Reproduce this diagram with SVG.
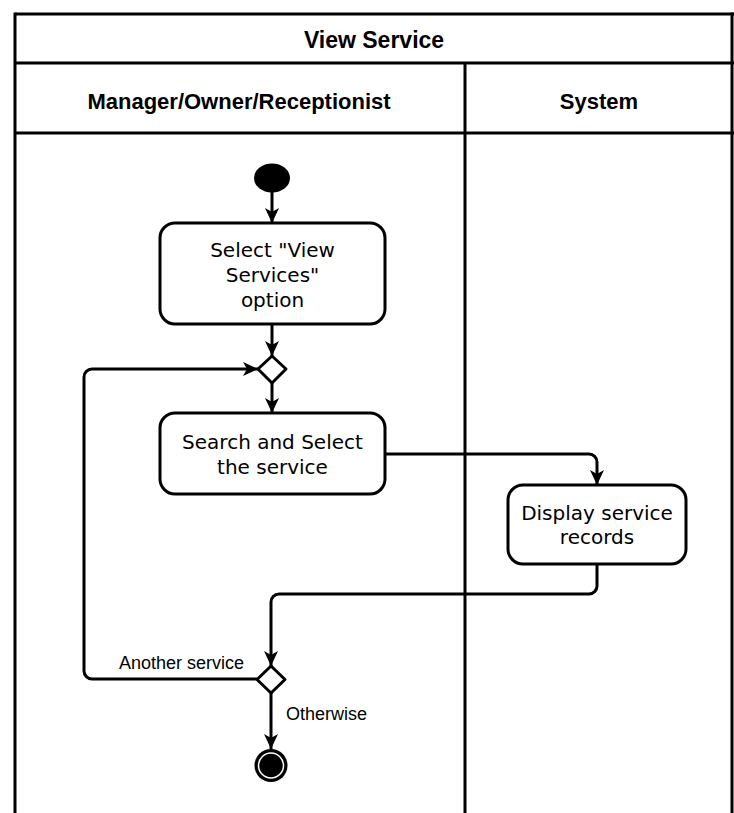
<svg xmlns="http://www.w3.org/2000/svg" width="734" height="813" viewBox="0 0 734 813">
<defs>
<style>
.lane{stroke:#000;stroke-width:3;fill:none}
.hdr{font-family:"Liberation Sans",Arial,sans-serif;font-weight:bold;font-size:22px;fill:#000;text-anchor:middle}
.node{fill:#fff;stroke:#000;stroke-width:3}
.ntxt{font-family:"DejaVu Sans",Verdana,sans-serif;font-size:20px;fill:#000;text-anchor:middle}
.edge{fill:none;stroke:#000;stroke-width:3;stroke-linejoin:round}
.lbl{font-family:"Liberation Sans",Arial,sans-serif;font-size:18px;fill:#000}
</style>
<marker id="arr" markerUnits="userSpaceOnUse" markerWidth="16" markerHeight="14" viewBox="0 0 16 14" refX="15" refY="7" orient="auto">
<path d="M0,0 L15,7 L0,14 L4,7 z" fill="#000"/>
</marker>
</defs>
<rect width="734" height="813" fill="#fff"/>
<g id="pool">
<line class="lane" x1="15" y1="14" x2="734" y2="14"/>
<line class="lane" x1="15" y1="12.5" x2="15" y2="813"/>
<line class="lane" x1="732" y1="12.5" x2="732" y2="813"/>
<line class="lane" x1="15" y1="63" x2="734" y2="63"/>
<line class="lane" x1="15" y1="133" x2="734" y2="133"/>
<line class="lane" x1="465" y1="63" x2="465" y2="813"/>
<text class="hdr" x="374" y="48" style="font-size:23px">View Service</text>
<text class="hdr" x="239" y="109">Manager/Owner/Receptionist</text>
<text class="hdr" x="599" y="109">System</text>
</g>
<g id="connectors">
<line class="edge" x1="272" y1="192" x2="272" y2="223" marker-end="url(#arr)"/>
<line class="edge" x1="272" y1="324" x2="272" y2="356" marker-end="url(#arr)"/>
<line class="edge" x1="272" y1="383" x2="272" y2="413" marker-end="url(#arr)"/>
<path class="edge" d="M385,454 H589 A8,8 0 0 1 597,462 V485" marker-end="url(#arr)"/>
<path class="edge" d="M597,564 V586 A8,8 0 0 1 589,594 H279 A8,8 0 0 0 271,602 V666" marker-end="url(#arr)"/>
<path class="edge" d="M257,679 H92 A8,8 0 0 1 84,671 V377 A8,8 0 0 1 92,369 H258" marker-end="url(#arr)"/>
<line class="edge" x1="271" y1="693" x2="271" y2="749" marker-end="url(#arr)"/>
<text class="lbl" x="244" y="669" text-anchor="end">Another service</text>
<text class="lbl" x="286" y="720">Otherwise</text>
</g>
<g id="start">
<ellipse cx="272" cy="178" rx="18" ry="14.5" fill="#000"/>
</g>
<g id="select-view-services">
<rect class="node" x="160" y="223" width="225" height="101" rx="15"/>
<text class="ntxt" x="272.5" y="257">Select "View</text>
<text class="ntxt" x="272.5" y="282">Services"</text>
<text class="ntxt" x="272.5" y="307">option</text>
</g>
<g id="merge">
<path d="M272,356 L286,369 L272,383 L258,369 Z" fill="#fff" stroke="#000" stroke-width="3" stroke-linejoin="round"/>
</g>
<g id="search-select">
<rect class="node" x="160" y="413" width="225" height="81" rx="15"/>
<text class="ntxt" x="272.5" y="449">Search and Select</text>
<text class="ntxt" x="272.5" y="474">the service</text>
</g>
<g id="display-records">
<rect class="node" x="508" y="485" width="178" height="79" rx="15"/>
<text class="ntxt" x="597" y="520">Display service</text>
<text class="ntxt" x="597" y="544">records</text>
</g>
<g id="decision">
<path d="M271,666 L285,679.5 L271,693 L257,679.5 Z" fill="#fff" stroke="#000" stroke-width="3" stroke-linejoin="round"/>
</g>
<g id="end">
<circle cx="271" cy="765.5" r="16.5" fill="#000"/>
<circle cx="271" cy="765.5" r="12.5" fill="#000" stroke="#fff" stroke-width="1.5"/>
</g>
</svg>
